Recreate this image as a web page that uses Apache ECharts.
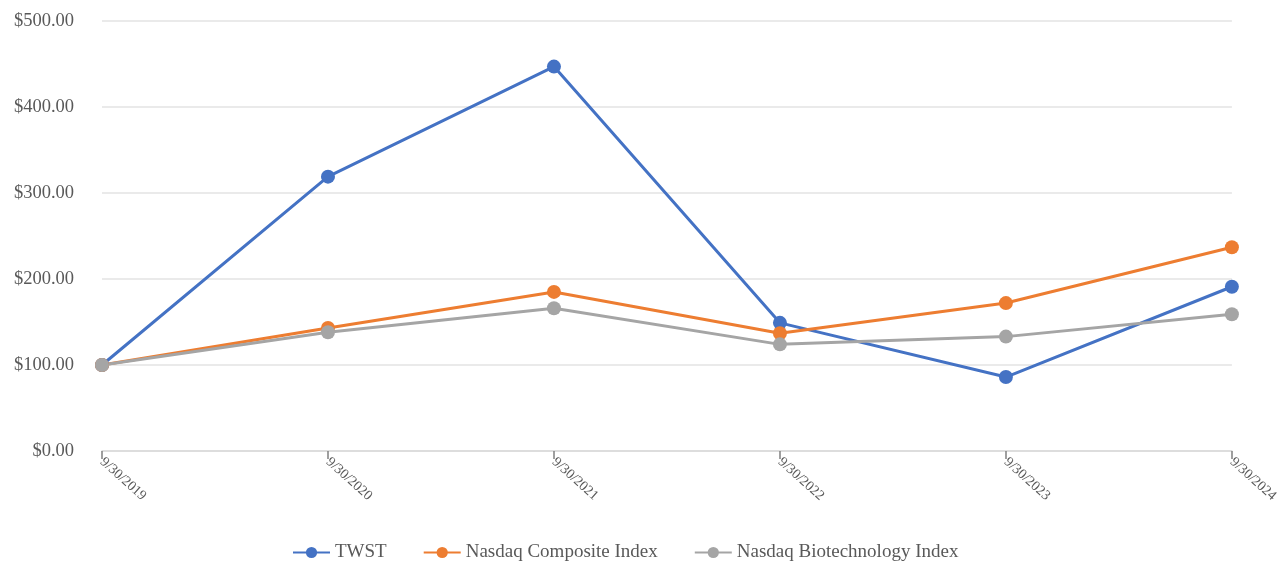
<!DOCTYPE html>
<html lang="en">
<head>
    <meta charset="UTF-8" />
    <title>TWST cumulative return</title>
    <script src="https://cdn.jsdelivr.net/npm/echarts@6/dist/echarts.min.js"></script>
</head>
<body style="margin:0">
<div id="main" style="width:1281px;height:568px;"></div>
<script type="text/javascript">
    var dates = ['9/30/2019', '9/30/2020', '9/30/2021', '9/30/2022', '9/30/2023', '9/30/2024'];
    var twst = [100, 319, 447, 149, 86, 191];
    var nasdaqComposite = [100, 143, 185, 137, 172, 237];
    var nasdaqBiotech = [100, 138, 166, 124, 133, 159];

    var myChart = echarts.init(document.getElementById('main'));
    var font = '"Liberation Serif", "Times New Roman", serif';

    function line(name, data, color) {
        return {
            name: name,
            type: 'line',
            data: data,
            symbol: 'circle',
            symbolSize: 14,
            itemStyle: { color: color },
            lineStyle: { color: color, width: 3 }
        };
    }

    var option = {
        animation: false,
        textStyle: { fontFamily: font },
        grid: { left: 102, right: 48, top: 21, bottom: 117 },
        legend: {
            bottom: 1,
            left: 287,
            itemWidth: 37,
            itemHeight: 14,
            itemGap: 36,
            textStyle: { fontFamily: font, fontSize: 19, color: '#595959' },
            data: ['TWST', 'Nasdaq Composite Index', 'Nasdaq Biotechnology Index']
        },
        xAxis: {
            type: 'category',
            boundaryGap: false,
            data: dates,
            axisLine: { lineStyle: { color: '#d9d9d9', width: 1.5 } },
            axisTick: { show: true, alignWithLabel: true, length: 8, lineStyle: { color: '#808080', width: 1.5 } },
            axisLabel: { rotate: -42, fontSize: 14, color: '#595959', fontFamily: font, margin: 9 }
        },
        yAxis: {
            type: 'value',
            min: 0,
            max: 500,
            interval: 100,
            axisLine: { show: false },
            axisTick: { show: false },
            splitLine: { lineStyle: { color: '#e3e3e3', width: 1.5 } },
            axisLabel: {
                fontSize: 18.5,
                color: '#595959',
                fontFamily: font,
                margin: 28,
                formatter: function (v) { return '$' + v.toFixed(2); }
            }
        },
        series: [
            line('TWST', twst, '#4472C4'),
            line('Nasdaq Composite Index', nasdaqComposite, '#ED7D31'),
            line('Nasdaq Biotechnology Index', nasdaqBiotech, '#A5A5A5')
        ]
    };
    myChart.setOption(option);
</script>
</body>
</html>
